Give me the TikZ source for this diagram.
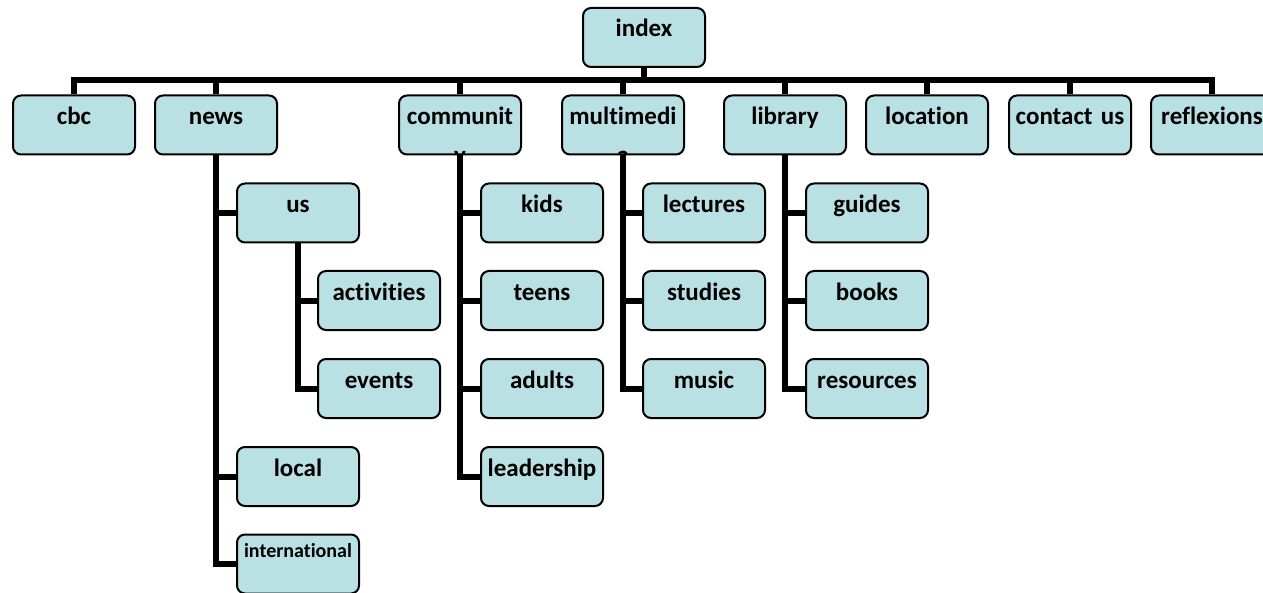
\documentclass[tikz,border=0pt]{standalone}
\usepackage{fontspec}
\setmainfont{Carlito}[Ligatures={NoCommon}]
\definecolor{boxfill}{HTML}{B9E0E3}
\begin{document}
\begin{tikzpicture}[x=0.5pt,y=-0.5pt,
  box/.style={draw=black, line width=1pt, fill=boxfill, rounded corners=4pt,
    inner sep=0pt, text width=61pt, align=center, text height=14.5pt, text depth=15pt,
    font=\fontsize{12.5}{15}\selectfont\bfseries},
  smallbox/.style={box, text height=11.5pt, text depth=18pt, font=\fontsize{10}{12}\selectfont\bfseries},
  cut/.style={path picture={\node[anchor=base, inner sep=0pt, font=\fontsize{12.5}{15}\selectfont\bfseries]
      at ([yshift=-34pt]path picture bounding box.north) {#1};}},
  conn/.style={line width=3pt, line join=miter}]
\useasboundingbox (0,0) rectangle (1263,593);
% top
\node[box] (index) at (644,37.5) {index};
\node[box] (cbc) at (74,125) {cbc};
\node[box] (news) at (216,125) {news};
\node[box, cut=y] (community) at (460,125) {communit};
\node[box, cut=a] (multimedia) at (623,125) {multimedi};
\node[box] (library) at (785,125) {library};
\node[box] (location) at (927,125) {location};
\node[box] (contact) at (1070,125) {contact us};
\node[box] (reflexions) at (1212,125) {reflexions};
% news
\node[box] (us) at (298,213) {us};
\node[box] (activities) at (379,300.5) {activities};
\node[box] (events) at (379,388.5) {events};
\node[box] (local) at (298,476.5) {local};
\node[smallbox] (international) at (298,564) {international};
% community
\node[box] (kids) at (542,213) {kids};
\node[box] (teens) at (542,300.5) {teens};
\node[box] (adults) at (542,388.5) {adults};
\node[box] (leadership) at (542,476.5) {leadership};
% multimedia
\node[box] (lectures) at (704,213) {lectures};
\node[box] (studies) at (704,300.5) {studies};
\node[box] (music) at (704,388.5) {music};
% library
\node[box] (guides) at (867,213) {guides};
\node[box] (books) at (867,300.5) {books};
\node[box] (resources) at (867,388.5) {resources};
% connectors
\foreach \c in {cbc,news,community,multimedia,library,location,contact,reflexions}
  \draw[conn] (index.south) |- ([yshift=7pt]\c.north) -- (\c.north);
\foreach \p/\c in {news/us,news/local,news/international,us/activities,us/events,
  community/kids,community/teens,community/adults,community/leadership,
  multimedia/lectures,multimedia/studies,multimedia/music,
  library/guides,library/books,library/resources}
  \draw[conn] (\p.south) |- (\c.west);
\end{tikzpicture}
\end{document}
